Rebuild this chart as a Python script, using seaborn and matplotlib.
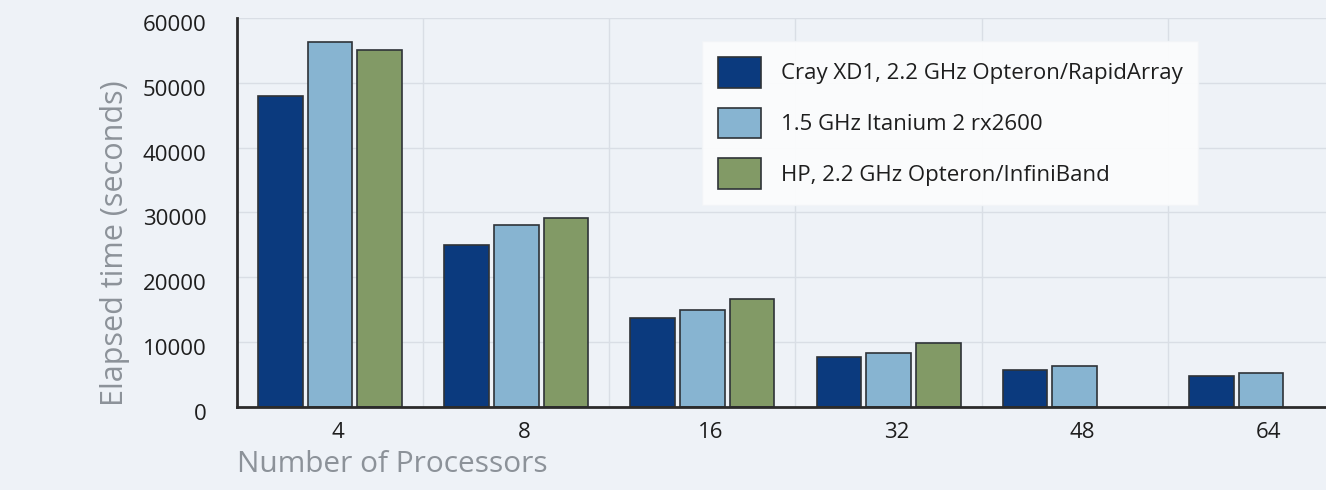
import matplotlib
matplotlib.use("Agg")
import matplotlib.pyplot as plt
import matplotlib.transforms as mtransforms
import seaborn as sns
import pandas as pd
import numpy as np

processors = ["4", "8", "16", "32", "48", "64"]
cray = [48000, 25000, 13800, 7700, 5700, 4750]
itanium = [56300, 28100, 15000, 8400, 6300, 5300]
hp = [55100, 29100, 16600, 9900, np.nan, np.nan]
series_names = ["Cray XD1, 2.2 GHz Opteron/RapidArray",
                "1.5 GHz Itanium 2 rx2600",
                "HP, 2.2 GHz Opteron/InfiniBand"]
colors = ["#0B3A7E", "#87B4D1", "#829A66"]
yticks = [0, 10000, 20000, 30000, 40000, 50000, 60000]

rows = []
for name, vals in zip(series_names, [cray, itanium, hp]):
    for p, v in zip(processors, vals):
        if not np.isnan(v):
            rows.append({"Processors": p, "Time": v, "System": name})
df = pd.DataFrame(rows)

bg = "#EEF2F7"
sns.set_theme(style="white")
plt.rcParams["font.family"] = ["Open Sans", "DejaVu Sans"]

fig = plt.figure(figsize=(13.26, 4.9), dpi=100, facecolor=bg)
ax = fig.add_axes([0.1787, 0.1694, 0.8213, 0.7939])
ax.set_facecolor(bg)

sns.barplot(data=df, x="Processors", y="Time", hue="System",
            order=processors, hue_order=series_names,
            palette=colors, saturation=1, width=0.8, gap=0.1,
            edgecolor="#2E3338", linewidth=1.2, ax=ax, zorder=3)

ax.set_ylim(0, 60000)
ax.set_xlim(-0.5, 5.35)
ax.set_yticks(yticks)
ax.set_yticklabels([str(t) for t in yticks])

# grid lines: horizontal at ticks, vertical at category boundaries
ax.grid(axis="y", color="#D9DEE5", linewidth=1.0, zorder=0)
for b in np.arange(0.5, 5.0, 1.0):
    ax.axvline(b, color="#D9DEE5", linewidth=1.0, zorder=0)

for s in ["top", "right"]:
    ax.spines[s].set_visible(False)
for s in ["left", "bottom"]:
    ax.spines[s].set_color("#2B2B2B")
    ax.spines[s].set_linewidth(2.0)
    ax.spines[s].set_zorder(4)

ax.tick_params(axis="both", length=0, labelsize=16, colors="#1E1E1E")
ax.tick_params(axis="y", pad=22)
ax.tick_params(axis="x", pad=11)
for lab in ax.get_xticklabels():
    lab.set_transform(lab.get_transform() + mtransforms.ScaledTranslation(0.08, 0, fig.dpi_scale_trans))
for lab in ax.get_yticklabels():
    lab.set_transform(lab.get_transform() + mtransforms.ScaledTranslation(0, -0.05, fig.dpi_scale_trans))

ax.set_ylabel("Elapsed time (seconds)", fontsize=22, color="#8C9299", labelpad=8)
ax.yaxis.set_label_coords(-0.098, 0.42)
ax.set_xlabel("Number of Processors", fontsize=21.5, color="#8C9299", loc="left", labelpad=5)

handles, labels = ax.get_legend_handles_labels()
leg = ax.legend(handles, labels, loc="upper left", bbox_to_anchor=(0.427, 0.94),
                fontsize=16, frameon=True, handlelength=1.95, handleheight=1.75,
                labelspacing=0.9, handletextpad=0.9, borderpad=0.7,
                borderaxespad=0, fancybox=False)
leg.get_frame().set_facecolor("#FBFCFD")
leg.get_frame().set_edgecolor("#F2F4F7")
leg.get_frame().set_alpha(0.95)
leg.set_zorder(5)
for t in leg.get_texts():
    t.set_color("#1E1E1E")

fig.savefig("out.png", dpi=100, facecolor=bg)
